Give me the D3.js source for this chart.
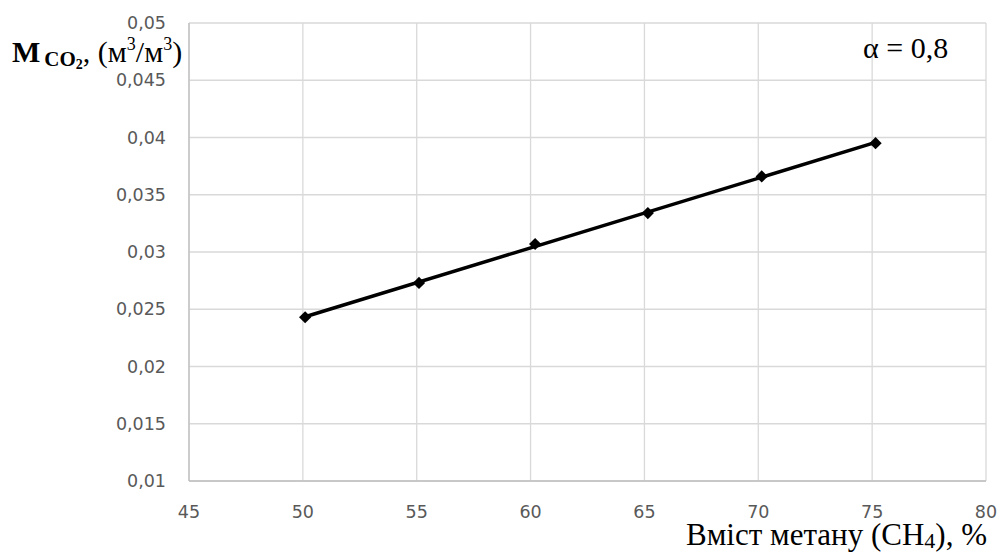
<!DOCTYPE html>
<html>
<head>
<meta charset="utf-8">
<script src="https://cdn.jsdelivr.net/npm/d3@7"></script>
<style>
  body { margin: 0; background: #fff; }
  svg { display: block; }
</style>
</head>
<body>
<svg id="chart"></svg>
<script>
const svgWidth = 1003;
const svgHeight = 552;

// data
const methane = [50.1, 55.1, 60.2, 65.15, 70.15, 75.15];
const co2 = [0.0243, 0.0273, 0.0307, 0.0334, 0.0366, 0.0395];
const xTicks = [45, 50, 55, 60, 65, 70, 75, 80];
const yTicks = [0.01, 0.015, 0.02, 0.025, 0.03, 0.035, 0.04, 0.045, 0.05];

const plot = { left: 189, right: 986, top: 23, bottom: 481 };

const svg = d3.select("#chart")
    .attr("width", svgWidth)
    .attr("height", svgHeight);

const x = d3.scaleLinear().domain([45, 80]).range([plot.left, plot.right]);
const y = d3.scaleLinear().domain([0.01, 0.05]).range([plot.bottom, plot.top]);

const fmt = d => String(+d.toFixed(3)).replace(".", ",");

// gridlines
svg.append("g")
    .selectAll("line")
    .data(yTicks)
    .enter().append("line")
    .attr("x1", plot.left).attr("x2", plot.right)
    .attr("y1", d => y(d)).attr("y2", d => y(d))
    .attr("stroke", "#d9d9d9")
    .attr("stroke-width", 1.3);

svg.append("g")
    .selectAll("line")
    .data(xTicks)
    .enter().append("line")
    .attr("y1", plot.top).attr("y2", plot.bottom)
    .attr("x1", d => x(d)).attr("x2", d => x(d))
    .attr("stroke", "#d9d9d9")
    .attr("stroke-width", 1.3);

// axis lines
svg.append("line")
    .attr("x1", plot.left).attr("x2", plot.left)
    .attr("y1", plot.top).attr("y2", plot.bottom)
    .attr("stroke", "#bfbfbf").attr("stroke-width", 1.3);
svg.append("line")
    .attr("x1", plot.left).attr("x2", plot.right)
    .attr("y1", plot.bottom).attr("y2", plot.bottom)
    .attr("stroke", "#bfbfbf").attr("stroke-width", 1.3);

// tick labels
svg.append("g")
    .selectAll("text")
    .data(yTicks)
    .enter().append("text")
    .attr("x", 166)
    .attr("y", d => y(d))
    .attr("dy", "0.35em")
    .attr("text-anchor", "end")
    .attr("font-family", "DejaVu Sans")
    .attr("font-size", 17.5)
    .attr("fill", "#595959")
    .text(fmt);

svg.append("g")
    .selectAll("text")
    .data(xTicks)
    .enter().append("text")
    .attr("x", d => x(d))
    .attr("y", 512)
    .attr("dy", "0.35em")
    .attr("text-anchor", "middle")
    .attr("font-family", "DejaVu Sans")
    .attr("font-size", 17.5)
    .attr("fill", "#595959")
    .text(d => d);

// linear trend line
const reg = (() => {
    const mx = d3.mean(methane), my = d3.mean(co2);
    let sxy = 0, sxx = 0;
    methane.forEach((v, i) => { sxy += (v - mx) * (co2[i] - my); sxx += (v - mx) ** 2; });
    const k = sxy / sxx;
    return { k, b: my - k * mx };
})();
const xs = d3.extent(methane);
svg.append("path")
    .datum(xs.map(v => [v, reg.k * v + reg.b]))
    .attr("fill", "none")
    .attr("stroke", "#000")
    .attr("stroke-width", 3.5)
    .attr("d", d3.line().x(d => x(d[0])).y(d => y(d[1])));

// markers
svg.append("g")
    .selectAll("path")
    .data(methane.map((v, i) => [v, co2[i]]))
    .enter().append("path")
    .attr("transform", d => `translate(${x(d[0])},${y(d[1])})`)
    .attr("d", d3.symbol(d3.symbolDiamond2, 95))
    .attr("fill", "#000");

// labels
const yLab = svg.append("text")
    .attr("x", 12)
    .attr("y", 62)
    .attr("font-family", "Liberation Serif")
    .attr("font-size", 30)
    .attr("fill", "#000");
yLab.append("tspan").attr("font-weight", "bold").text("M");
yLab.append("tspan").attr("font-size", 21).attr("font-weight", "bold").attr("dx", 4).attr("dy", 4).text("CO");
yLab.append("tspan").attr("font-size", 14).attr("font-weight", "bold").attr("dy", 3).text("2");
yLab.append("tspan").attr("dy", -7).text(", (м");
yLab.append("tspan").attr("font-size", 18).attr("dy", -12).text("3");
yLab.append("tspan").attr("dy", 12).text("/м");
yLab.append("tspan").attr("font-size", 18).attr("dy", -12).text("3");
yLab.append("tspan").attr("dy", 12).text(")");

const xLab = svg.append("text")
    .attr("x", 987)
    .attr("y", 545)
    .attr("text-anchor", "end")
    .attr("font-family", "Liberation Serif")
    .attr("font-size", 31)
    .attr("fill", "#000");
xLab.append("tspan").text("Вміст метану (CH");
xLab.append("tspan").attr("font-size", 22).attr("dy", 3).text("4");
xLab.append("tspan").attr("dy", -3).text("), %");

svg.append("text")
    .attr("x", 863)
    .attr("y", 58)
    .attr("font-family", "Liberation Serif")
    .attr("font-size", 30)
    .attr("fill", "#000")
    .text("α = 0,8");
</script>
</body>
</html>
